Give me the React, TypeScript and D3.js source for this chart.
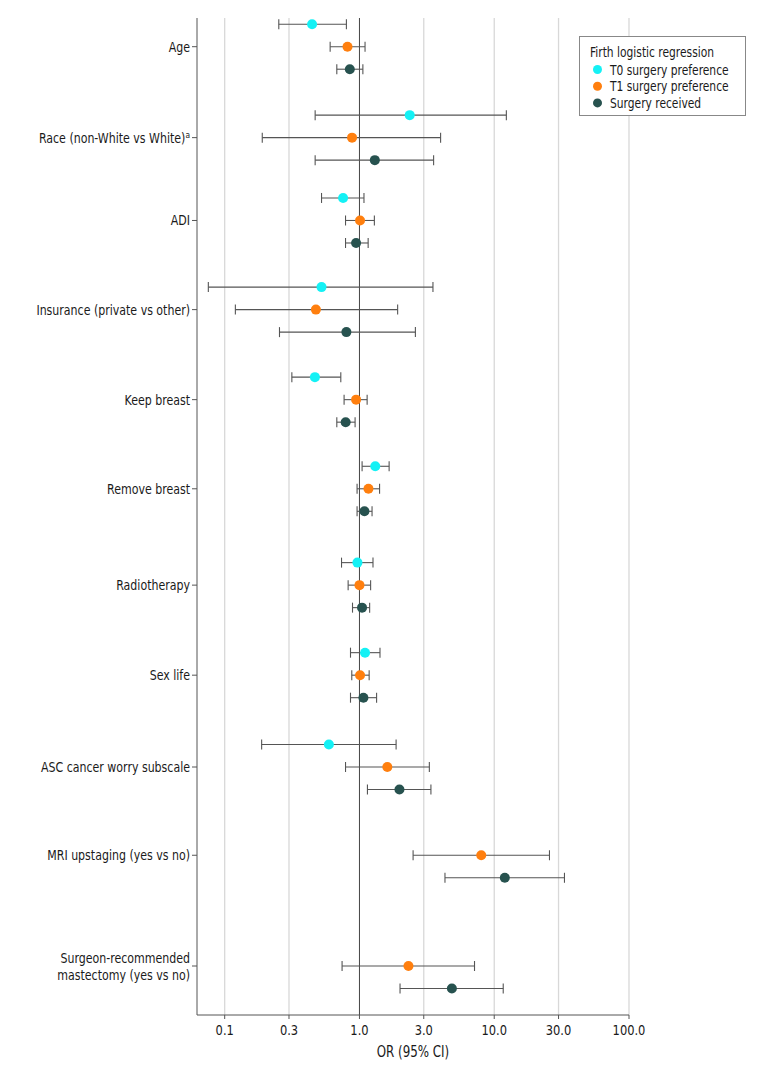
import React from "react";
import * as d3 from "d3";

const categories = [
  "Age",
  "Race (non-White vs White)",
  "ADI",
  "Insurance (private vs other)",
  "Keep breast",
  "Remove breast",
  "Radiotherapy",
  "Sex life",
  "ASC cancer worry subscale",
  "MRI upstaging (yes vs no)",
  "Surgeon-recommended mastectomy (yes vs no)",
];
const categoryLines = [
  ["Age"],
  ["Race (non-White vs White)"],
  ["ADI"],
  ["Insurance (private vs other)"],
  ["Keep breast"],
  ["Remove breast"],
  ["Radiotherapy"],
  ["Sex life"],
  ["ASC cancer worry subscale"],
  ["MRI upstaging (yes vs no)"],
  ["Surgeon-recommended", "mastectomy (yes vs no)"],
];
const superscripts = ["", "a", "", "", "", "", "", "", "", "", ""];
// row positions (category units)
const rowPos = [0, 1.01, 1.93, 2.92, 3.92, 4.91, 5.98, 6.98, 8.0, 8.98, 10.21];

const seriesNames = ["T0 surgery preference", "T1 surgery preference", "Surgery received"];
const seriesColors = ["#14f1f5", "#ff7f0e", "#27524f"];
const seriesOffset = [-0.25, 0, 0.25];

const t0Or = [0.445, 2.36, 0.756, 0.523, 0.467, 1.31, 0.966, 1.1, 0.593, null, null];
const t0Lo = [0.252, 0.469, 0.523, 0.0756, 0.315, 1.046, 0.736, 0.858, 0.188, null, null];
const t0Hi = [0.8, 12.3, 1.08, 3.51, 0.727, 1.66, 1.26, 1.42, 1.87, null, null];

const t1Or = [0.815, 0.881, 1.01, 0.475, 0.944, 1.166, 1.0, 1.01, 1.61, 8.01, 2.31];
const t1Lo = [0.606, 0.19, 0.788, 0.12, 0.769, 0.96, 0.824, 0.877, 0.788, 2.5, 0.743];
const t1Hi = [1.1, 4.0, 1.29, 1.92, 1.14, 1.41, 1.21, 1.18, 3.3, 25.7, 7.14];

const srOr = [0.848, 1.3, 0.944, 0.8, 0.79, 1.089, 1.045, 1.07, 1.98, 11.98, 4.85];
const srLo = [0.679, 0.469, 0.788, 0.255, 0.679, 0.96, 0.888, 0.858, 1.146, 4.31, 2.0];
const srHi = [1.06, 3.55, 1.16, 2.6, 0.928, 1.24, 1.19, 1.34, 3.39, 33.2, 11.66];

const xTicks = [0.1, 0.3, 1.0, 3.0, 10.0, 30.0, 100.0];
const xDomain = [0.0623, 100];

const FONT = "'DejaVu Sans Condensed', 'DejaVu Sans', sans-serif";

function CText(props: any) {
  const { x, y, sx = 0.85, children, ...rest } = props;
  return (
    <text transform={`translate(${x},${y}) scale(${sx},1)`} fill="#1a1a1a" {...rest}>
      {children}
    </text>
  );
}

export default function App() {
  const W = 780, H = 1070;
  const left = 197, right = 629, top = 18, bottom = 1015;
  const x = d3.scaleLog().domain(xDomain).range([left, right]);
  const y = d3.scaleLinear().domain([0, 10.21]).range([46.7, 966]);

  const series = [
    { or: t0Or, lo: t0Lo, hi: t0Hi },
    { or: t1Or, lo: t1Lo, hi: t1Hi },
    { or: srOr, lo: srLo, hi: srHi },
  ];

  const marks: any[] = [];
  series.forEach((s, si) => {
    s.or.forEach((v, i) => {
      if (v == null) return;
      const yy = y(rowPos[i] + seriesOffset[si]);
      const x0 = x(s.lo[i] as number), x1 = x(s.hi[i] as number);
      marks.push(
        <g key={`s${si}-${i}`}>
          <line x1={x0} x2={x1} y1={yy} y2={yy} stroke="#555" strokeWidth={1.1} />
          <line x1={x0} x2={x0} y1={yy - 5} y2={yy + 5} stroke="#555" strokeWidth={1.1} />
          <line x1={x1} x2={x1} y1={yy - 5} y2={yy + 5} stroke="#555" strokeWidth={1.1} />
          <circle cx={x(v)} cy={yy} r={5} fill={seriesColors[si]} />
        </g>
      );
    });
  });

  return (
    <svg width={W} height={H} style={{ position: "absolute", left: 0, top: 0, fontFamily: FONT }}>
      <rect width={W} height={H} fill="#fff" />
      {xTicks.map((t) => (
        <line key={`g${t}`} x1={x(t)} x2={x(t)} y1={top} y2={bottom}
          stroke={t === 1 ? "#444" : "#d8d8d8"} strokeWidth={t === 1 ? 1 : 1.3} />
      ))}
      {/* axes */}
      <line x1={left} x2={left} y1={top} y2={bottom} stroke="#555" strokeWidth={1} />
      <line x1={left} x2={right} y1={bottom} y2={bottom} stroke="#555" strokeWidth={1} />
      {xTicks.map((t) => (
        <g key={`t${t}`}>
          <line x1={x(t)} x2={x(t)} y1={bottom} y2={bottom + 4} stroke="#555" />
          <CText x={x(t)} y={1035} sx={0.88} fontSize={14.5} textAnchor="middle">{t.toFixed(1)}</CText>
        </g>
      ))}
      <CText x={(left + right) / 2} y={1057} sx={0.88} fontSize={15} textAnchor="middle">OR (95% CI)</CText>
      {categories.map((c, i) => {
        const yy = y(rowPos[i]);
        const lines = categoryLines[i];
        const lh = 17;
        return (
          <g key={`c${i}`}>
            <line x1={left - 5} x2={left} y1={yy} y2={yy} stroke="#555" />
            {lines.map((ln, k) => (
              <CText key={k} x={left - 7} y={yy + 5 + (k - (lines.length - 1) / 2) * lh}
                sx={0.875} fontSize={14} textAnchor="end">
                {ln}
                {superscripts[i] && k === lines.length - 1 ? (
                  <tspan dy={-5} fontSize={9.5}>{superscripts[i]}</tspan>
                ) : null}
              </CText>
            ))}
          </g>
        );
      })}
      {marks}
      {/* legend */}
      <g>
        <rect x={579.5} y={36.5} width={166} height={79} fill="#fff" stroke="#888" strokeWidth={1} />
        <CText x={590} y={57} fontSize={14}>Firth logistic regression</CText>
        {seriesNames.map((n, i) => (
          <g key={n}>
            <circle cx={597.5} cy={69.5 + i * 16.7} r={4.5} fill={seriesColors[i]} />
            <CText x={610} y={74.5 + i * 16.7} fontSize={14}>{n}</CText>
          </g>
        ))}
      </g>
    </svg>
  );
}
